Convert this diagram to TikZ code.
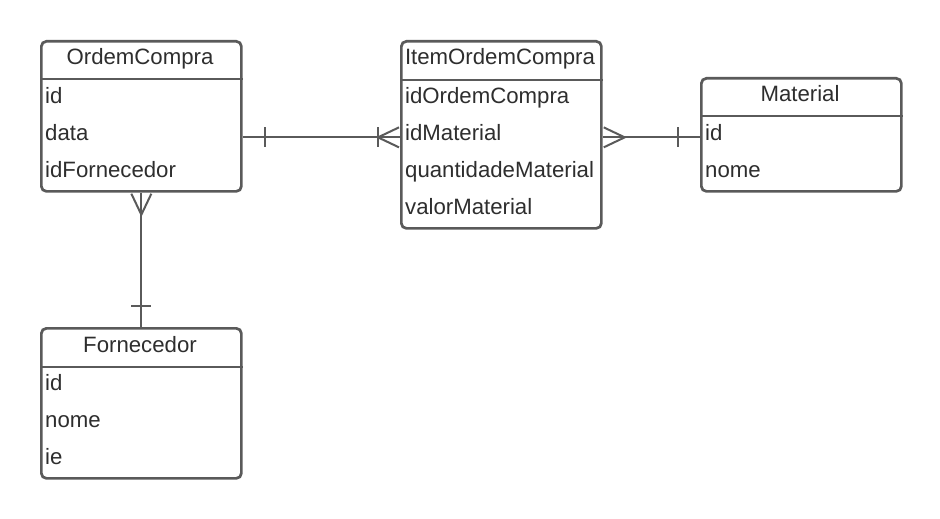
\documentclass[tikz,border=0pt]{standalone}
\usepackage{fontspec}
\setmainfont{Liberation Sans}
\usetikzlibrary{calc}
\definecolor{strk}{HTML}{5A5A5A}
\definecolor{txt}{HTML}{2E2E2E}
\tikzset{
  entity/.style={draw=strk, line width=2.7pt, rounded corners=5pt, fill=white, rectangle, anchor=north west, minimum width=200pt, inner sep=0pt},
  divider/.style={draw=strk, line width=2.5pt},
  row/.style={anchor=base west, inner sep=0pt, text=txt, font=\fontsize{22.2}{26}\selectfont},
  head/.style={anchor=base, inner sep=0pt, text=txt, font=\fontsize{22.2}{26}\selectfont},
  rel/.style={draw=strk, line width=2pt},
}
\begin{document}
\begin{tikzpicture}[x=1pt,y=-1pt]
\useasboundingbox (0,0) rectangle (940,519);
% OrdemCompra
\node[entity, minimum height=150pt] (oc) at (40,40) {};
\draw[divider] (oc.west |- 0,79) -- (oc.east |- 0,79);
\node[head] (ocH) at (140,65) {OrdemCompra};
\node[row] (ocid) at (45,103) {id};
\node[row] (ocdata) at (45,140) {data};
\node[row] (ocforn) at (45,177) {idFornecedor};
% ItemOrdemCompra
\node[entity, minimum height=187pt] (it) at (400,40) {};
\draw[divider] (it.west |- 0,80) -- (it.east |- 0,80);
\node[head] (itH) at (500,65) {ItemOrdemCompra};
\node[row] (itoc) at (405,103) {idOrdemCompra};
\node[row] (itmat) at (405,140) {idMaterial};
\node[row] (itqt) at (405,177) {quantidadeMaterial};
\node[row] (itval) at (405,214) {valorMaterial};
% Material
\node[entity, minimum height=113pt] (mat) at (700,77) {};
\draw[divider] (mat.west |- 0,116) -- (mat.east |- 0,116);
\node[head] (matH) at (800,101) {Material};
\node[row] (matid) at (705,140) {id};
\node[row] (matnome) at (705,177) {nome};
% Fornecedor
\node[entity, minimum height=150pt] (fo) at (40,327) {};
\draw[divider] (fo.west |- 0,367) -- (fo.east |- 0,367);
\node[head] (foH) at (140,352) {Fornecedor};
\node[row] (foid) at (45,390) {id};
\node[row] (fonome) at (45,427) {nome};
\node[row] (foie) at (45,464) {ie};
% relation OrdemCompra -- ItemOrdemCompra
\coordinate (a1) at (oc.east |- itmat.mid);
\coordinate (b1) at (it.west |- itmat.mid);
\draw[rel] (a1) -- (b1);
\draw[rel] ($(a1)+(22,-10)$) -- ($(a1)+(22,10)$);
\draw[rel] ($(b1)+(-22,-10)$) -- ($(b1)+(-22,10)$);
\draw[rel] ($(b1)+(-1,-10)$) -- ($(b1)+(-22,0)$) -- ($(b1)+(-1,10)$);
% relation ItemOrdemCompra -- Material
\coordinate (a2) at (it.east |- itmat.mid);
\coordinate (b2) at (mat.west |- itmat.mid);
\draw[rel] (a2) -- (b2);
\draw[rel] ($(a2)+(1,-10)$) -- ($(a2)+(22,0)$) -- ($(a2)+(1,10)$);
\draw[rel] ($(b2)+(-22,-10)$) -- ($(b2)+(-22,10)$);
% relation OrdemCompra -- Fornecedor
\coordinate (a3) at (oc.south);
\coordinate (b3) at (fo.north);
\draw[rel] (a3) -- (b3);
\draw[rel] ($(a3)+(-10,1)$) -- ($(a3)+(0,22)$) -- ($(a3)+(10,1)$);
\draw[rel] ($(b3)+(-10,-21)$) -- ($(b3)+(10,-21)$);
\end{tikzpicture}
\end{document}
